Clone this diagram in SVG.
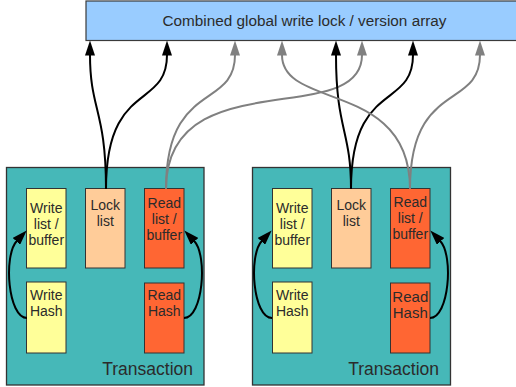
<svg xmlns="http://www.w3.org/2000/svg" width="516" height="387" viewBox="0 0 516 387">
  <style>
    text { font-family: "Liberation Sans", Arial, sans-serif; fill: #2b2b2b; }
    .lbl { font-size: 14px; text-anchor: middle; }
    .global { fill: #99ccff; stroke: #3a3a3a; stroke-width: 1.2; }
    .tx { fill: #46b8b8; stroke: #333333; stroke-width: 1.3; }
    .write { fill: #ffff99; stroke: #333333; stroke-width: 1; }
    .lock { fill: #ffcc99; stroke: #333333; stroke-width: 1; }
    .read { fill: #ff6633; stroke: #333333; stroke-width: 1; }
    .txlabel { font-size: 17.5px; text-anchor: end; }
    .blk { fill: none; stroke: #000000; stroke-width: 2; }
    .gry { fill: none; stroke: #808080; stroke-width: 2; }
  </style>
  <defs>
    <marker id="headBlack" markerUnits="userSpaceOnUse" viewBox="0 0 15 10" refX="0.5" refY="5" markerWidth="15" markerHeight="10" orient="auto">
      <path d="M0,0 L15,5 L0,10 z" fill="#000000"/>
    </marker>
    <marker id="headGray" markerUnits="userSpaceOnUse" viewBox="0 0 15 10" refX="0.5" refY="5" markerWidth="15" markerHeight="10" orient="auto">
      <path d="M0,0 L15,5 L0,10 z" fill="#808080"/>
    </marker>
  </defs>

  <!-- shared lock / version table -->
  <g id="global-array">
    <rect class="global" x="86" y="1" width="440" height="39.5"/>
    <text x="304.5" y="26" style="font-size:15.3px" text-anchor="middle">Combined global write lock / version array</text>
  </g>

  <!-- first transaction -->
  <g id="tx1">
    <rect class="tx" x="6.5" y="167.5" width="197.5" height="217.5"/>
    <text class="txlabel" x="193" y="375">Transaction</text>
    <g id="tx1-write-list">
      <rect class="write" x="26.5" y="188.5" width="39.5" height="79.5"/>
      <text class="lbl" x="46.3" y="213">Write</text>
      <text class="lbl" x="46.3" y="229">list /</text>
      <text class="lbl" x="46.3" y="245">buffer</text>
    </g>
    <g id="tx1-lock-list">
      <rect class="lock" x="85.5" y="188.5" width="39.5" height="79.5"/>
      <text class="lbl" x="105.3" y="210">Lock</text>
      <text class="lbl" x="105.3" y="226">list</text>
    </g>
    <g id="tx1-read-list">
      <rect class="read" x="144.5" y="188.5" width="39.5" height="79.5"/>
      <text class="lbl" x="164.3" y="208">Read</text>
      <text class="lbl" x="164.3" y="224">list /</text>
      <text class="lbl" x="164.3" y="240">buffer</text>
    </g>
    <g id="tx1-write-hash">
      <rect class="write" x="26.5" y="282" width="39.5" height="71"/>
      <text class="lbl" x="46.3" y="300">Write</text>
      <text class="lbl" x="46.3" y="316">Hash</text>
    </g>
    <g id="tx1-read-hash">
      <rect class="read" x="144.5" y="283" width="39.5" height="70"/>
      <text class="lbl" x="164.3" y="300">Read</text>
      <text class="lbl" x="164.3" y="316">Hash</text>
    </g>
  </g>

  <!-- second transaction -->
  <g id="tx2">
    <rect class="tx" x="252.5" y="167.5" width="198" height="217.5"/>
    <text class="txlabel" x="439" y="375">Transaction</text>
    <g id="tx2-write-list">
      <rect class="write" x="272.5" y="188.5" width="39.5" height="79.5"/>
      <text class="lbl" x="292.3" y="213">Write</text>
      <text class="lbl" x="292.3" y="229">list /</text>
      <text class="lbl" x="292.3" y="245">buffer</text>
    </g>
    <g id="tx2-lock-list">
      <rect class="lock" x="331.5" y="188.5" width="39.5" height="79.5"/>
      <text class="lbl" x="351.3" y="210">Lock</text>
      <text class="lbl" x="351.3" y="226">list</text>
    </g>
    <g id="tx2-read-list">
      <rect class="read" x="390.5" y="188.5" width="39.5" height="79.5"/>
      <text class="lbl" x="410.3" y="207">Read</text>
      <text class="lbl" x="410.3" y="223">list /</text>
      <text class="lbl" x="410.3" y="239">buffer</text>
    </g>
    <g id="tx2-write-hash">
      <rect class="write" x="272.5" y="282" width="39.5" height="71"/>
      <text class="lbl" x="292.3" y="300">Write</text>
      <text class="lbl" x="292.3" y="316">Hash</text>
    </g>
    <g id="tx2-read-hash">
      <rect class="read" x="390.5" y="283" width="39.5" height="70"/>
      <text class="lbl" x="410.3" y="302" style="font-size:15px">Read</text>
      <text class="lbl" x="410.3" y="318" style="font-size:15px">Hash</text>
    </g>
  </g>

  <!-- connectors -->
  <g id="connectors">
    <!-- transaction 1: lock list -> global array (black), read list -> global array (gray) -->
    <path class="blk" marker-end="url(#headBlack)" d="M106,189 C106,110 90,110 90,55"/>
    <path class="blk" marker-end="url(#headBlack)" d="M106,189 C106,80 167,110 167,55"/>
    <path class="gry" marker-end="url(#headGray)" d="M166,189 C166,80 235,110 235,55"/>
    <path class="gry" marker-end="url(#headGray)" d="M166,189 C166,60 362,130 362,55"/>
    <!-- transaction 2 -->
    <path class="blk" marker-end="url(#headBlack)" d="M351,189 C351,130 336,130 336,55"/>
    <path class="blk" marker-end="url(#headBlack)" d="M351,189 C351,80 413,110 413,55"/>
    <path class="gry" marker-end="url(#headGray)" d="M410,189 C410,80 282,110 282,55"/>
    <path class="gry" marker-end="url(#headGray)" d="M410,189 C410,80 480,110 480,55"/>
    <!-- hash -> list arrows inside each transaction -->
    <path class="blk" marker-end="url(#headBlack)" d="M27,318 C8,318 3.2,255.6 16.8,241"/>
    <path class="blk" marker-end="url(#headBlack)" d="M184,318 C203,318 207.8,255.6 194.2,241"/>
    <path class="blk" marker-end="url(#headBlack)" d="M272,318 C253,318 248.2,255.6 261.8,241"/>
    <path class="blk" marker-end="url(#headBlack)" d="M430,318 C449,318 453.8,255.6 440.2,241"/>
  </g>
</svg>
